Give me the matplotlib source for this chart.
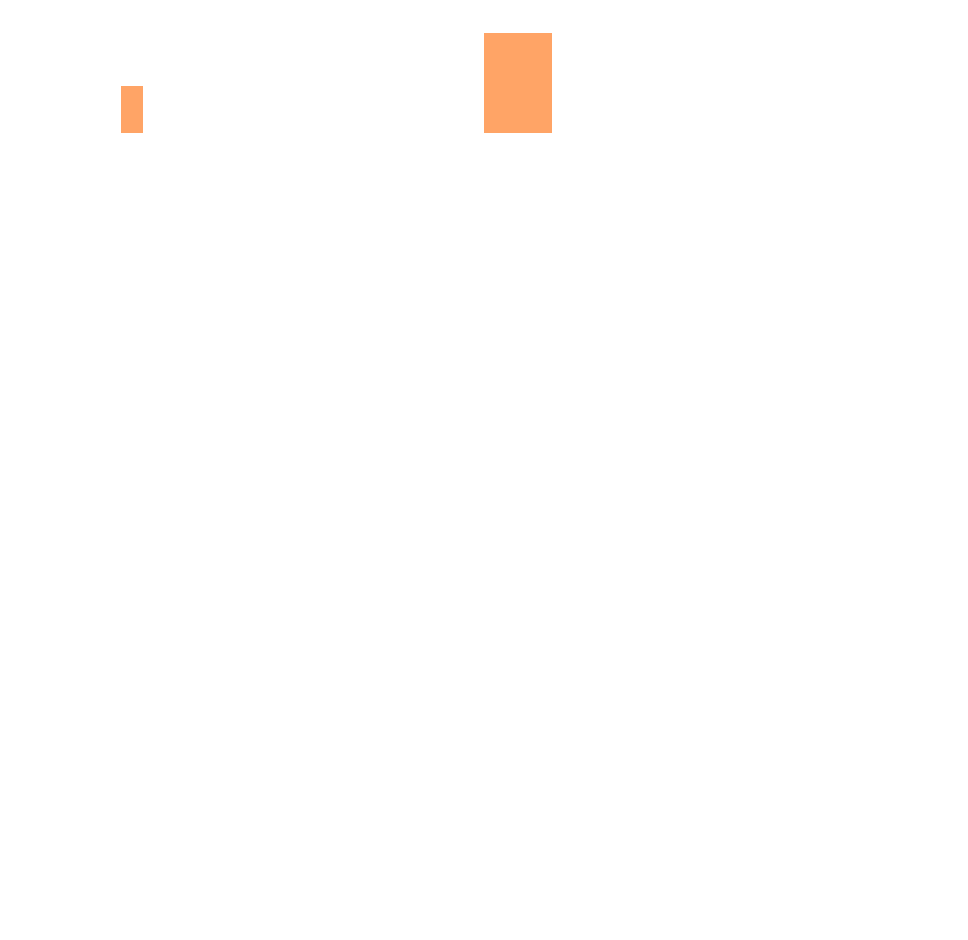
import matplotlib
matplotlib.use("Agg")
import matplotlib.pyplot as plt

# Two bars of different width, sharing one baseline
bar_starts = [121, 484]
bar_widths = [22, 68]
bar_values = [47, 100]
BAR_COLOR = "#FFA466"

fig = plt.figure(figsize=(9.68, 9.40), dpi=100)
fig.patch.set_facecolor("white")

# Axes band from the baseline (y=133px) up to the top of the tallest bar (y=33px)
ax = fig.add_axes([0, 1 - 133 / 940, 1, 100 / 940])
ax.bar(bar_starts, bar_values, width=bar_widths, align="edge",
       color=BAR_COLOR, edgecolor="none", linewidth=0)
ax.set_xlim(0, 968)
ax.set_ylim(0, 100)
ax.axis("off")

fig.savefig("out.png", dpi=100, facecolor="white")
